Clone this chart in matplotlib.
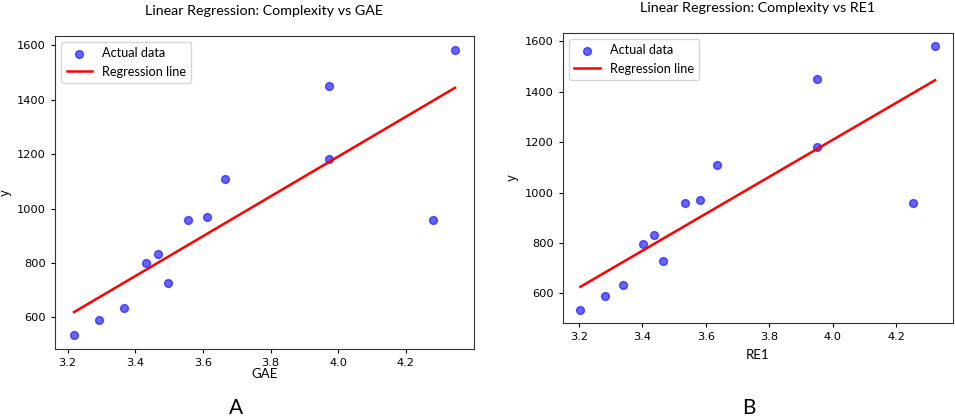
import numpy as np
from matplotlib import pyplot as plt

# values
y_vals = [536, 589, 633, 798, 832, 727, 957, 969, 1108, 1450, 1181, 957, 1582]
gae = [3.219, 3.293, 3.366, 3.433, 3.467, 3.497, 3.556, 3.612, 3.664, 3.972, 3.972, 4.281, 4.345]
re1 = [3.205, 3.282, 3.339, 3.401, 3.436, 3.464, 3.535, 3.583, 3.636, 3.951, 3.951, 4.254, 4.322]

fig = plt.figure(figsize=(9.55, 4.19), dpi=100)

panels = [
    (gae, 'GAE', 'A', [0.0576, 0.1671, 0.4387, 0.747], 0.974, 236, 0),
    (re1, 'RE1', 'B', [0.5892, 0.2298, 0.4084, 0.692], 0.982, 749, 5),
]

for xs, name, letter, rect, title_y, letter_x, lpad in panels:
    ax = fig.add_axes(rect)
    xs = np.array(xs)
    ys = np.array(y_vals)
    slope, icpt = np.polyfit(xs, ys, 1)
    ax.scatter(xs, ys, s=32, color='blue', alpha=0.6, label='Actual data')
    ax.plot(xs, slope * xs + icpt, color='red', linewidth=1.8, label='Regression line')
    ax.tick_params(labelsize=8.2, length=3, width=0.8)
    ax.set_xticks([3.2, 3.4, 3.6, 3.8, 4.0, 4.2])
    ax.set_yticks([600, 800, 1000, 1200, 1400, 1600])
    for sp in ax.spines.values():
        sp.set_color('#333333')
    ax.set_xlabel(name, fontsize=9.5, family='Lato', labelpad=lpad)
    ax.set_ylabel('y', fontsize=8.5, labelpad=4)
    ax.legend(loc='upper left', prop={'family': 'Lato', 'size': 9.2})
    fig.text(rect[0] + rect[2] / 2, title_y, 'Linear Regression: Complexity vs ' + name,
             ha='center', va='center', fontsize=10.3, family='Lato')
    fig.text(letter_x / 955, 1 - 408 / 419, letter, ha='center', va='center',
             fontsize=15, family='Lato')

plt.savefig('out.png', dpi=100)
